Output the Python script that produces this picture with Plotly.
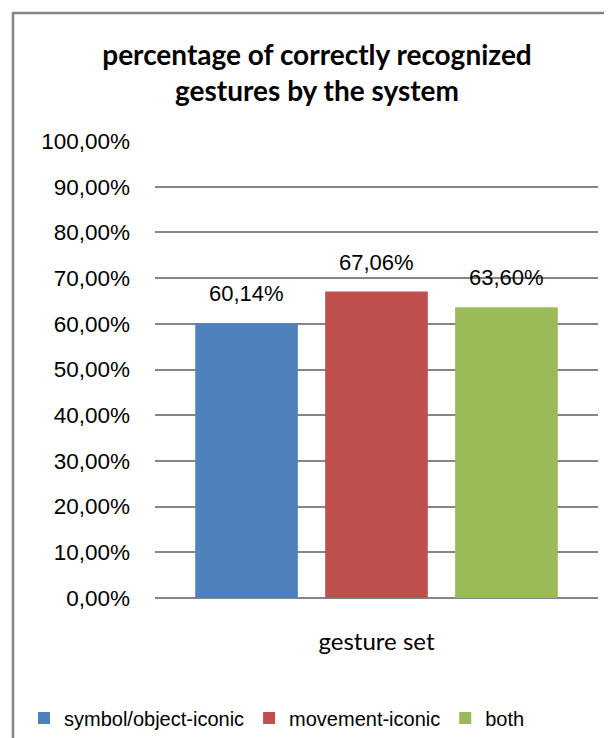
import plotly.graph_objects as go

# data
category = ["gesture set"]
series_names = ["symbol/object-iconic", "movement-iconic", "both"]
series_values = [0.6014, 0.6706, 0.6360]
series_colors = ["#4f81bd", "#c0504d", "#9bbb59"]
y_ticks = [0, 0.1, 0.2, 0.3, 0.4, 0.5, 0.6, 0.7, 0.8, 0.9, 1.0]

W, H = 612, 738
OFF = 8  # page body margin shifts the figure by 8px
L, R, T, B = 155 - OFF, 612 - (598 - OFF), 141 - OFF, 738 - (598 - OFF)
pw = W - L - R
ph = H - T - B
BARGAP = 0.12

fig = go.Figure()
for name, val, col in zip(series_names, series_values, series_colors):
    fig.add_trace(go.Bar(x=category, y=[val], name=name,
                         marker=dict(color=col, line=dict(width=0))))

# value labels above each bar
slot = pw * (1 - BARGAP) / len(series_values)
for i, val in enumerate(series_values):
    fig.add_annotation(x=category[0], y=val, text=f"{val*100:.2f}%".replace(".", ","),
                       showarrow=False, xanchor="center", yanchor="bottom",
                       xshift=(i - 1) * slot, yshift=15,
                       font=dict(family="Liberation Sans", size=22, color="black"))

# gray frame around the chart (cut off on right and bottom like the original)
px2x = lambda p: (p - OFF - L) / pw
px2y = lambda p: (H - B - (p - OFF)) / ph
fig.add_shape(type="rect", xref="paper", yref="paper",
              x0=px2x(13), x1=px2x(700), y0=px2y(800), y1=px2y(13),
              line=dict(color="#868686", width=2.5))

fig.update_layout(
    width=W, height=H,
    margin=dict(l=L, r=R, t=T, b=B, autoexpand=False),
    paper_bgcolor="white", plot_bgcolor="white",
    separators=", ",
    barmode="group", bargap=BARGAP, bargroupgap=0.21,
    title=dict(text="<b>percentage of correctly recognized<br>gestures by the system</b>",
               x=(317 - OFF) / W, xanchor="center", y=1 - (65 - OFF) / H, yanchor="middle",
               font=dict(family="Lato", size=28, color="black")),
    legend=dict(orientation="h", x=px2x(24), xanchor="left",
                y=px2y(718), yanchor="middle",
                font=dict(family="Liberation Sans", size=20, color="black"),
                itemwidth=30, tracegroupgap=0),
    showlegend=True,
)
fig.update_yaxes(range=[0, 1], tickvals=y_ticks, tickformat=".2%",
                 showgrid=True, gridcolor="#868686", gridwidth=1.5,
                 zeroline=True, zerolinecolor="#868686", zerolinewidth=1.5,
                 showline=False, ticks="", ticklabelstandoff=24,
                 tickfont=dict(family="Liberation Sans", size=22.5, color="black"))
fig.update_xaxes(showline=False, ticks="", ticklabelstandoff=27,
                 tickfont=dict(family="Lato", size=24, color="black"))

fig.write_html("out.html")
